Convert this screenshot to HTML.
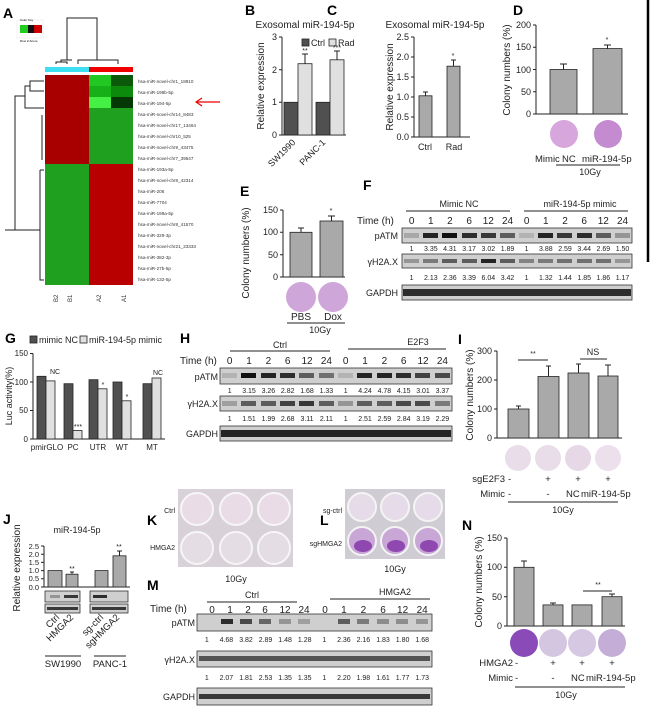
<!DOCTYPE html>
<html><head><meta charset="utf-8"><style>
html,body{margin:0;padding:0;background:#fff;}
svg{display:block;font-family:"Liberation Sans",Arial,sans-serif;}
.L{font-size:14px;font-weight:bold;}
.t{font-size:9px;fill:#222;}
.s{font-size:7px;fill:#222;}
.h{font-size:4.6px;fill:#333;}
.ax{stroke:#222;stroke-width:1;fill:none;}
.g{fill:#a9a9a9;stroke:#222;stroke-width:0.8;}
.dk{fill:#505050;stroke:#222;stroke-width:0.8;}
.lt{fill:#e0e0e0;stroke:#222;stroke-width:0.8;}
.bl{fill:#cfcfcf;stroke:#333;stroke-width:0.8;}
.b{fill:#111;}
</style></head><body>
<svg width="650" height="708" viewBox="0 0 650 708" xmlns="http://www.w3.org/2000/svg">
<line x1="648" y1="0" x2="648" y2="262" stroke="#000" stroke-width="2.5"/>

<!-- A -->
<text x="3" y="18" class="L">A</text>
<rect x="17" y="20" width="26" height="18" fill="#fff" stroke="#ccc" stroke-width="0.3"/>
<rect x="20" y="25" width="8" height="8" fill="#2c2"/><rect x="28" y="25" width="6" height="8" fill="#111"/><rect x="34" y="25" width="8" height="8" fill="#c00"/>
<text x="20" y="21" style="font-size:3px">Color Key</text>
<text x="20" y="42" style="font-size:3px">Row Z-Score</text>
<path class="ax" stroke-width="0.5" d="M56 64V62H67V64M78 64V60H118V64M61 62V60H72M97 60V18H67V60" />
<rect x="45" y="67" width="44" height="5" fill="#3de0f0"/><rect x="89" y="67" width="44" height="5" fill="#e00"/>
<g>
<rect x="45" y="75" width="44" height="89" fill="#a80000"/>
<rect x="89" y="75" width="22" height="11" fill="#22c822"/><rect x="111" y="75" width="22" height="11" fill="#0a5a0a"/>
<rect x="89" y="86" width="22" height="11" fill="#18b018"/><rect x="111" y="86" width="22" height="11" fill="#0b8a0b"/>
<rect x="89" y="97" width="22" height="11" fill="#44f044"/><rect x="111" y="97" width="22" height="11" fill="#063806"/>
<rect x="89" y="108" width="44" height="56" fill="#1fa01f"/>
<rect x="45" y="164" width="44" height="121" fill="#1fa01f"/>
<rect x="89" y="164" width="44" height="121" fill="#b80000"/>
</g>
<path class="ax" stroke-width="0.5" d="M44 81H30V91H44M30 86H25V108H44M25 96H15V230H40M40 170H44M40 170V280H44M42 115V160M15 230H5"/>
<text class="h" x="138" y="83">hsa-miR-novel-chr1_18910</text>
<text class="h" x="138" y="94">hsa-miR-196b-5p</text>
<text class="h" x="138" y="105">hsa-miR-194-5p</text>
<text class="h" x="138" y="116">hsa-miR-novel-chr14_8483</text>
<text class="h" x="138" y="127">hsa-miR-novel-chr17_13464</text>
<text class="h" x="138" y="138">hsa-miR-novel-chr10_525</text>
<text class="h" x="138" y="149">hsa-miR-novel-chr9_43475</text>
<text class="h" x="138" y="160">hsa-miR-novel-chr7_39547</text>
<text class="h" x="138" y="171">hsa-miR-193a-5p</text>
<text class="h" x="138" y="182">hsa-miR-novel-chr8_42314</text>
<text class="h" x="138" y="193">hsa-miR-206</text>
<text class="h" x="138" y="204">hsa-miR-7704</text>
<text class="h" x="138" y="215">hsa-miR-199a-5p</text>
<text class="h" x="138" y="226">hsa-miR-novel-chr8_41570</text>
<text class="h" x="138" y="237">hsa-miR-329-3p</text>
<text class="h" x="138" y="248">hsa-miR-novel-chr21_23333</text>
<text class="h" x="138" y="259">hsa-miR-382-3p</text>
<text class="h" x="138" y="270">hsa-miR-27b-5p</text>
<text class="h" x="138" y="281">hsa-miR-132-5p</text>
<line x1="197" y1="102" x2="220" y2="102" stroke="#e00" stroke-width="1.2"/><path d="M202 98L196 102L202 106" stroke="#e00" fill="none" stroke-width="1.2"/>
<g style="font-size:6px" fill="#333">
<text transform="translate(58,302) rotate(-90)">B2</text><text transform="translate(72,302) rotate(-90)">B1</text>
<text transform="translate(101,302) rotate(-90)">A2</text><text transform="translate(126,302) rotate(-90)">A1</text></g>

<!-- B -->
<text x="245" y="15" class="L">B</text>
<text x="305" y="28" class="t" style="font-size:10px" text-anchor="middle">Exosomal miR-194-5p</text>
<rect x="302" y="39" width="7" height="7" class="dk"/><text x="311" y="46" class="t">Ctrl</text>
<rect x="329" y="39" width="7" height="7" class="lt"/><text x="338" y="46" class="t">Rad</text>
<path class="ax" d="M282 37V135H346M279 37H282M279 69.7H282M279 102.3H282M279 135H282"/>
<g class="t" text-anchor="end"><text x="277" y="40">3</text><text x="277" y="73">2</text><text x="277" y="105">1</text><text x="277" y="138">0</text></g>
<text transform="translate(264,86) rotate(-90)" class="t" style="font-size:10px" text-anchor="middle">Relative expression</text>
<rect x="284" y="102.3" width="14" height="32.7" class="dk"/><rect x="298" y="63.7" width="14" height="71.3" class="lt"/>
<rect x="316" y="102.3" width="14" height="32.7" class="dk"/><rect x="330" y="59.8" width="14" height="75.2" class="lt"/>
<path class="ax" d="M305 63.7V54M302 54H308M337 59.8V51M334 51H340"/>
<text x="305" y="53" class="s" text-anchor="middle">**</text><text x="337" y="50" class="s" text-anchor="middle">***</text>
<text transform="translate(296,143) rotate(-45)" class="t" text-anchor="end">SW1990</text>
<text transform="translate(326,143) rotate(-45)" class="t" text-anchor="end">PANC-1</text>

<!-- C -->
<text x="327" y="15" class="L">C</text>
<text x="435" y="28" class="t" style="font-size:10px" text-anchor="middle">Exosomal miR-194-5p</text>
<path class="ax" d="M414 37V137H470M411 37H414M411 57H414M411 77H414M411 97H414M411 117H414M411 137H414"/>
<g class="t" text-anchor="end"><text x="409" y="40">2.5</text><text x="409" y="60">2.0</text><text x="409" y="80">1.5</text><text x="409" y="100">1.0</text><text x="409" y="120">0.5</text><text x="409" y="140">0.0</text></g>
<text transform="translate(393,87) rotate(-90)" class="t" style="font-size:10px" text-anchor="middle">Relative expression</text>
<rect x="419" y="95.8" width="13" height="41.2" class="g"/><rect x="447" y="66.2" width="13" height="70.8" class="g"/>
<path class="ax" d="M425.5 95.8V92M423 92H428M453.5 66.2V60M451 60H456"/>
<text x="453" y="58" class="s" text-anchor="middle">*</text>
<text x="425" y="150" class="t" text-anchor="middle">Ctrl</text><text x="454" y="150" class="t" text-anchor="middle">Rad</text>

<!-- D -->
<text x="513" y="15" class="L">D</text>
<path class="ax" d="M536 25V114H628M533 25H536M533 47.3H536M533 69.5H536M533 91.8H536M533 114H536"/>
<g class="t" text-anchor="end"><text x="531" y="28">200</text><text x="531" y="50">150</text><text x="531" y="73">100</text><text x="531" y="95">50</text><text x="531" y="117">0</text></g>
<text transform="translate(510,70) rotate(-90)" class="t" style="font-size:10px" text-anchor="middle">Colony numbers (%)</text>
<rect x="550" y="69.5" width="27" height="44.5" class="g"/><rect x="593" y="48.6" width="29" height="65.4" class="g"/>
<path class="ax" d="M563.5 69.5V64M560 64H567M607.5 48.6V45M604 45H611"/>
<text x="607" y="42" class="s" text-anchor="middle">*</text>
<circle cx="564" cy="134" r="14" fill="#d7a6dc"/><circle cx="608" cy="134" r="14" fill="#c58bd0"/>
<text x="535" y="162" class="t" style="font-size:9.5px">Mimic</text><text x="562" y="162" class="t" style="font-size:9.5px">NC</text><text x="582" y="162" class="t" style="font-size:9.5px">miR-194-5p</text>
<line x1="556" y1="165" x2="620" y2="165" class="ax"/>
<text x="590" y="175" class="t" text-anchor="middle">10Gy</text>

<!-- E -->
<text x="240" y="196" class="L">E</text>
<path class="ax" d="M283 210V277H345M280 210H283M280 232.3H283M280 254.7H283M280 277H283"/>
<g class="t" text-anchor="end"><text x="278" y="213">150</text><text x="278" y="235">100</text><text x="278" y="258">50</text><text x="278" y="280">0</text></g>
<text transform="translate(249,253) rotate(-90)" class="t" style="font-size:10px" text-anchor="middle">Colony numbers (%)</text>
<rect x="290" y="232.3" width="22" height="44.7" class="g"/><rect x="320" y="221" width="23" height="56" class="g"/>
<path class="ax" d="M301 232.3V228M298 228H304M331.5 221V216M328 216H335"/>
<text x="331" y="213" class="s" text-anchor="middle">*</text>
<circle cx="301" cy="297" r="15" fill="#cfa6da"/><circle cx="333" cy="297" r="15" fill="#cfa6da"/>
<text x="301" y="320" class="t" style="font-size:10px" text-anchor="middle">PBS</text><text x="333" y="320" class="t" style="font-size:10px" text-anchor="middle">Dox</text>
<line x1="287" y1="323" x2="345" y2="323" class="ax"/><text x="320" y="333" class="t" text-anchor="middle">10Gy</text>

<!-- F -->
<text x="363" y="190" class="L">F</text>
<text x="459" y="207" class="t" text-anchor="middle">Mimic NC</text><line x1="406" y1="211" x2="510" y2="211" class="ax"/>
<text x="580" y="207" class="t" text-anchor="middle">miR-194-5p mimic</text><line x1="524" y1="211" x2="628" y2="211" class="ax"/>
<text x="357" y="224" class="t" style="font-size:10px">Time (h)</text>
<g class="t" style="font-size:10px" text-anchor="middle">
<text x="411.6" y="224">0</text><text x="430.8" y="224">1</text><text x="449.9" y="224">2</text><text x="469.1" y="224">6</text><text x="488.3" y="224">12</text><text x="507.5" y="224">24</text>
<text x="526.6" y="224">0</text><text x="545.8" y="224">1</text><text x="565" y="224">2</text><text x="584.2" y="224">6</text><text x="603.3" y="224">12</text><text x="622.5" y="224">24</text></g>
<g class="t" text-anchor="end"><text x="398" y="239">pATM</text><text x="398" y="265">γH2A.X</text><text x="398" y="296">GAPDH</text></g>
<rect x="402" y="228" width="230" height="15" class="bl"/>
<rect x="402" y="254" width="230" height="14" class="bl"/>
<rect x="402" y="285" width="230" height="15" class="bl"/>
<g class="b">
<rect x="404" y="233" width="15" height="5" opacity=".2"/><rect x="423" y="233" width="15" height="5" opacity=".9"/><rect x="442" y="233" width="15" height="5"/><rect x="462" y="233" width="15" height="5" opacity=".85"/><rect x="481" y="233" width="15" height="5" opacity=".8"/><rect x="500" y="233" width="15" height="5" opacity=".6"/>
<rect x="519" y="233" width="15" height="5" opacity=".15"/><rect x="538" y="233" width="15" height="5" opacity=".9"/><rect x="557" y="233" width="15" height="5" opacity=".8"/><rect x="577" y="233" width="15" height="5" opacity=".85"/><rect x="596" y="233" width="15" height="5" opacity=".6"/><rect x="615" y="233" width="15" height="5" opacity=".3"/>
<rect x="404" y="259" width="15" height="4" opacity=".3"/><rect x="423" y="259" width="15" height="4" opacity=".45"/><rect x="442" y="259" width="15" height="4" opacity=".6"/><rect x="462" y="259" width="15" height="4" opacity=".6"/><rect x="481" y="259" width="15" height="4" opacity=".9"/><rect x="500" y="259" width="15" height="4" opacity=".6"/>
<rect x="519" y="259" width="15" height="4" opacity=".4"/><rect x="538" y="259" width="15" height="4" opacity=".45"/><rect x="557" y="259" width="15" height="4" opacity=".5"/><rect x="577" y="259" width="15" height="4" opacity=".5"/><rect x="596" y="259" width="15" height="4" opacity=".5"/><rect x="615" y="259" width="15" height="4" opacity=".3"/>
<rect x="403" y="289" width="228" height="7" opacity=".85"/></g>
<g class="s" text-anchor="middle">
<text x="411.6" y="251">1</text><text x="430.8" y="251">3.35</text><text x="449.9" y="251">4.31</text><text x="469.1" y="251">3.17</text><text x="488.3" y="251">3.02</text><text x="507.5" y="251">1.89</text><text x="526.6" y="251">1</text><text x="545.8" y="251">3.88</text><text x="565" y="251">2.59</text><text x="584.2" y="251">3.44</text><text x="603.3" y="251">2.69</text><text x="622.5" y="251">1.50</text>
<text x="411.6" y="280">1</text><text x="430.8" y="280">2.13</text><text x="449.9" y="280">2.36</text><text x="469.1" y="280">3.39</text><text x="488.3" y="280">6.04</text><text x="507.5" y="280">3.42</text><text x="526.6" y="280">1</text><text x="545.8" y="280">1.32</text><text x="565" y="280">1.44</text><text x="584.2" y="280">1.85</text><text x="603.3" y="280">1.86</text><text x="622.5" y="280">1.17</text></g>

<!-- G -->
<text x="5" y="343" class="L">G</text>
<rect x="30" y="336" width="7" height="7" class="dk"/><text x="39" y="343" class="t">mimic NC</text>
<rect x="80" y="336" width="7" height="7" class="lt"/><text x="89" y="343" class="t">miR-194-5p mimic</text>
<path class="ax" d="M33 353.5V439H165M30 353.5H33M30 382H33M30 410.5H33M30 439H33"/>
<g class="t" text-anchor="end" style="font-size:8px"><text x="28" y="356">150</text><text x="28" y="385">100</text><text x="28" y="413">50</text><text x="28" y="442">0</text></g>
<text transform="translate(12,396) rotate(-90)" class="t" text-anchor="middle">Luc activity(%)</text>
<rect x="37" y="376.3" width="9" height="62.7" class="dk"/><rect x="46" y="380.9" width="9" height="58.1" class="lt"/>
<rect x="64" y="383.7" width="9" height="55.3" class="dk"/><rect x="73" y="430.5" width="9" height="8.5" class="lt"/>
<rect x="89" y="379.7" width="9" height="59.3" class="dk"/><rect x="98" y="388.8" width="9" height="50.2" class="lt"/>
<rect x="113" y="382" width="9" height="57" class="dk"/><rect x="122" y="400.8" width="9" height="38.2" class="lt"/>
<rect x="143" y="383.7" width="9" height="55.3" class="dk"/><rect x="152" y="378" width="9" height="61" class="lt"/>
<g class="s" text-anchor="middle"><text x="55" y="374">NC</text><text x="78" y="429">***</text><text x="103" y="387">*</text><text x="127" y="399">*</text><text x="158" y="375">NC</text></g>
<g class="t" text-anchor="middle" style="font-size:8px"><text x="47" y="450">pmirGLO</text><text x="73" y="450">PC</text><text x="98" y="450">UTR</text><text x="122" y="450">WT</text><text x="152" y="450">MT</text></g>

<!-- H -->
<text x="180" y="343" class="L">H</text>
<text x="280" y="348" class="t" text-anchor="middle">Ctrl</text><line x1="230" y1="351" x2="330" y2="351" class="ax"/>
<text x="418" y="345" class="t" text-anchor="middle">E2F3</text><line x1="348" y1="349" x2="446" y2="349" class="ax"/>
<text x="180" y="364" class="t" style="font-size:10px">Time (h)</text>
<g class="t" style="font-size:10px" text-anchor="middle">
<text x="229.7" y="364">0</text><text x="249" y="364">1</text><text x="268.4" y="364">2</text><text x="287.7" y="364">6</text><text x="307" y="364">12</text><text x="326.4" y="364">24</text>
<text x="345.7" y="364">0</text><text x="365" y="364">1</text><text x="384.4" y="364">2</text><text x="403.7" y="364">6</text><text x="423" y="364">12</text><text x="442.4" y="364">24</text></g>
<g class="t" text-anchor="end"><text x="218" y="380">pATM</text><text x="218" y="407">γH2A.X</text><text x="218" y="437">GAPDH</text></g>
<rect x="220" y="368" width="232" height="16" class="bl"/>
<rect x="220" y="396" width="232" height="15" class="bl"/>
<rect x="220" y="426" width="232" height="15" class="bl"/>
<g class="b">
<rect x="222" y="373" width="15" height="5" opacity=".15"/><rect x="241" y="373" width="15" height="5"/><rect x="261" y="373" width="15" height="5" opacity=".9"/><rect x="280" y="373" width="15" height="5" opacity=".85"/><rect x="299" y="373" width="15" height="5" opacity=".6"/><rect x="319" y="373" width="15" height="5" opacity=".5"/>
<rect x="338" y="373" width="15" height="5" opacity=".15"/><rect x="357" y="373" width="15" height="5" opacity=".9"/><rect x="377" y="373" width="15" height="5" opacity=".9"/><rect x="396" y="373" width="15" height="5" opacity=".85"/><rect x="415" y="373" width="15" height="5" opacity=".75"/><rect x="435" y="373" width="15" height="5" opacity=".7"/>
<rect x="222" y="401" width="15" height="5" opacity=".25"/><rect x="241" y="401" width="15" height="5" opacity=".6"/><rect x="261" y="401" width="15" height="5" opacity=".6"/><rect x="280" y="401" width="15" height="5" opacity=".75"/><rect x="299" y="401" width="15" height="5" opacity=".8"/><rect x="319" y="401" width="15" height="5" opacity=".6"/>
<rect x="338" y="401" width="15" height="5" opacity=".3"/><rect x="357" y="401" width="15" height="5" opacity=".6"/><rect x="377" y="401" width="15" height="5" opacity=".6"/><rect x="396" y="401" width="15" height="5" opacity=".7"/><rect x="415" y="401" width="15" height="5" opacity=".7"/><rect x="435" y="401" width="15" height="5" opacity=".45"/>
<rect x="221" y="430" width="230" height="7" opacity=".9"/></g>
<g class="s" text-anchor="middle">
<text x="229.7" y="393">1</text><text x="249" y="393">3.15</text><text x="268.4" y="393">3.26</text><text x="287.7" y="393">2.82</text><text x="307" y="393">1.68</text><text x="326.4" y="393">1.33</text><text x="345.7" y="393">1</text><text x="365" y="393">4.24</text><text x="384.4" y="393">4.78</text><text x="403.7" y="393">4.15</text><text x="423" y="393">3.01</text><text x="442.4" y="393">3.37</text>
<text x="229.7" y="421">1</text><text x="249" y="421">1.51</text><text x="268.4" y="421">1.99</text><text x="287.7" y="421">2.68</text><text x="307" y="421">3.11</text><text x="326.4" y="421">2.11</text><text x="345.7" y="421">1</text><text x="365" y="421">2.51</text><text x="384.4" y="421">2.59</text><text x="403.7" y="421">2.84</text><text x="423" y="421">3.19</text><text x="442.4" y="421">2.29</text></g>

<!-- I -->
<text x="458" y="344" class="L">I</text>
<path class="ax" d="M497 351V438H622M494 351H497M494 380H497M494 409H497M494 438H497"/>
<g class="t" text-anchor="end"><text x="492" y="354">300</text><text x="492" y="383">200</text><text x="492" y="412">100</text><text x="492" y="441">0</text></g>
<text transform="translate(473,395) rotate(-90)" class="t" style="font-size:10px" text-anchor="middle">Colony numbers (%)</text>
<rect x="508" y="409" width="21" height="29" class="g"/><rect x="538" y="376.5" width="21" height="61.5" class="g"/><rect x="568" y="373" width="21" height="65" class="g"/><rect x="598" y="376" width="20" height="62" class="g"/>
<path class="ax" d="M518.5 409V406M516 406H521M548.5 376.5V366M546 366H551M578.5 373V364M576 364H581M608 376V365M605 365H611"/>
<line x1="518" y1="360" x2="548" y2="360" class="ax"/><text x="533" y="356" class="s" text-anchor="middle">**</text>
<line x1="580" y1="359" x2="607" y2="359" class="ax"/><text x="593" y="355" class="t" text-anchor="middle">NS</text>
<circle cx="518" cy="458" r="13" fill="#e8dde8"/><circle cx="548" cy="458" r="13" fill="#e8dde8"/><circle cx="578" cy="458" r="13" fill="#e6d8e6"/><circle cx="608" cy="458" r="13" fill="#ebe0eb"/>
<g class="t" style="font-size:9.5px"><text x="505" y="482" text-anchor="end">sgE2F3</text><text x="508" y="482">-</text><text x="548" y="482" text-anchor="middle">+</text><text x="578" y="482" text-anchor="middle">+</text><text x="608" y="482" text-anchor="middle">+</text>
<text x="505" y="497" text-anchor="end">Mimic</text><text x="508" y="497">-</text><text x="548" y="497" text-anchor="middle">-</text><text x="566" y="497">NC</text><text x="581" y="497">miR-194-5p</text></g>
<line x1="508" y1="502" x2="618" y2="502" class="ax"/><text x="563" y="513" class="t" text-anchor="middle">10Gy</text>

<!-- J -->
<text x="3" y="524" class="L">J</text>
<text x="77" y="533" class="t" text-anchor="middle">miR-194-5p</text>
<path class="ax" d="M44 546V587H130M41 546H44M41 554.2H44M41 562.4H44M41 570.6H44M41 578.8H44M41 587H44"/>
<g class="t" text-anchor="end" style="font-size:7.5px"><text x="39" y="549">2.5</text><text x="39" y="557">2.0</text><text x="39" y="565">1.5</text><text x="39" y="573">1.0</text><text x="39" y="581">0.5</text><text x="39" y="590">0.0</text></g>
<text transform="translate(20,568) rotate(-90)" class="t" style="font-size:10px" text-anchor="middle">Relative expression</text>
<rect x="48" y="570.6" width="14" height="16.4" class="g"/><rect x="66" y="574.2" width="12" height="12.8" class="g"/>
<rect x="95" y="570.6" width="13" height="16.4" class="g"/><rect x="113" y="555.8" width="13" height="31.2" class="g"/>
<path class="ax" d="M72 574.2V572M70 572H74M119.5 555.8V551M117 551H122"/>
<text x="72" y="571" class="s" text-anchor="middle">**</text><text x="119" y="549" class="s" text-anchor="middle">**</text>
<rect x="45" y="591" width="35" height="11" class="bl"/><rect x="90" y="591" width="38" height="11" class="bl"/>
<rect x="45" y="604" width="35" height="9" class="bl"/><rect x="90" y="604" width="38" height="9" class="bl"/>
<g class="b"><rect x="50" y="595" width="10" height="3" opacity=".3"/><rect x="64" y="595" width="14" height="3" opacity=".8"/><rect x="93" y="595" width="14" height="3" opacity=".85"/>
<rect x="47" y="607" width="31" height="3" opacity=".8"/><rect x="92" y="607" width="34" height="3" opacity=".8"/></g>
<g class="t" style="font-size:9.5px" text-anchor="end">
<text transform="translate(60,618) rotate(-45)">Ctrl</text><text transform="translate(74,618) rotate(-45)">HMGA2</text>
<text transform="translate(104,618) rotate(-45)">sg-ctrl</text><text transform="translate(120,618) rotate(-45)">sgHMGA2</text></g>
<line x1="45" y1="656" x2="81" y2="656" class="ax"/><line x1="94" y1="656" x2="126" y2="656" class="ax"/>
<text x="63" y="667" class="t" style="font-size:9.5px" text-anchor="middle">SW1990</text><text x="110" y="667" class="t" style="font-size:9.5px" text-anchor="middle">PANC-1</text>

<!-- K -->
<text x="147" y="525" class="L">K</text>
<rect x="178" y="489" width="115" height="78" fill="#d8d2d8"/>
<g fill="#eadce6" stroke="#f6f6f6" stroke-width="2"><circle cx="197" cy="509" r="16"/><circle cx="236" cy="509" r="16"/><circle cx="274" cy="509" r="16"/></g>
<g fill="#e4dde3" stroke="#f6f6f6" stroke-width="2"><circle cx="197" cy="548" r="16"/><circle cx="236" cy="548" r="16"/><circle cx="274" cy="548" r="16"/></g>
<text x="175" y="513" class="s" text-anchor="end">Ctrl</text><text x="175" y="550" class="s" text-anchor="end">HMGA2</text>
<text x="236" y="582" class="t" text-anchor="middle">10Gy</text>

<!-- L -->
<text x="320" y="525" class="L">L</text>
<rect x="345" y="489" width="100" height="70" fill="#d0ccd4"/>
<g fill="#e6dbe8" stroke="#f4f4f4" stroke-width="2"><circle cx="362" cy="507" r="14"/><circle cx="395" cy="507" r="14"/><circle cx="428" cy="507" r="14"/></g>
<g fill="#c8a6d6" stroke="#f4f4f4" stroke-width="2"><circle cx="362" cy="541" r="14"/><circle cx="395" cy="541" r="14"/><circle cx="428" cy="541" r="14"/></g>
<g fill="#8e48b0"><ellipse cx="363" cy="546" rx="9" ry="6"/><ellipse cx="396" cy="546" rx="9" ry="6"/><ellipse cx="429" cy="546" rx="9" ry="6"/></g>
<text x="342" y="513" class="s" text-anchor="end">sg-ctrl</text><text x="342" y="546" class="s" text-anchor="end">sgHMGA2</text>
<text x="395" y="572" class="t" text-anchor="middle">10Gy</text>

<!-- M -->
<text x="147" y="590" class="L">M</text>
<text x="252" y="598" class="t" text-anchor="middle">Ctrl</text><line x1="207" y1="602" x2="297" y2="602" class="ax"/>
<text x="395" y="595" class="t" text-anchor="middle">HMGA2</text><line x1="330" y1="599" x2="430" y2="599" class="ax"/>
<text x="150" y="612" class="t" style="font-size:10px">Time (h)</text>
<g class="t" style="font-size:10px" text-anchor="middle">
<text x="212" y="613">0</text><text x="230" y="613">1</text><text x="248" y="613">2</text><text x="265" y="613">6</text><text x="285" y="613">12</text><text x="304" y="613">24</text>
<text x="325" y="613">0</text><text x="343.9" y="613">1</text><text x="363.4" y="613">2</text><text x="383" y="613">6</text><text x="402.6" y="613">12</text><text x="422.2" y="613">24</text></g>
<g class="t" text-anchor="end"><text x="195" y="626">pATM</text><text x="195" y="663">γH2A.X</text><text x="195" y="700">GAPDH</text></g>
<rect x="197" y="614" width="235" height="17" class="bl"/>
<rect x="197" y="651" width="235" height="16" class="bl"/>
<rect x="197" y="688" width="235" height="17" class="bl"/>
<g class="b">
<rect x="221" y="619" width="12" height="5" opacity=".85"/><rect x="240" y="619" width="12" height="5" opacity=".7"/><rect x="259" y="619" width="12" height="5" opacity=".55"/><rect x="279" y="619" width="12" height="5" opacity=".3"/><rect x="298" y="619" width="12" height="5" opacity=".25"/>
<rect x="338" y="619" width="12" height="5" opacity=".6"/><rect x="357" y="619" width="12" height="5" opacity=".45"/><rect x="377" y="619" width="12" height="5" opacity=".35"/><rect x="396" y="619" width="12" height="5" opacity=".35"/><rect x="416" y="619" width="12" height="5" opacity=".3"/>
<rect x="199" y="656" width="231" height="5" opacity=".65"/>
<rect x="199" y="694" width="231" height="5" opacity=".8"/></g>
<g class="s" text-anchor="middle">
<text x="206.8" y="642">1</text><text x="226.4" y="642">4.68</text><text x="246" y="642">3.82</text><text x="265.5" y="642">2.89</text><text x="285.1" y="642">1.48</text><text x="304.7" y="642">1.28</text><text x="324.3" y="642">1</text><text x="343.9" y="642">2.36</text><text x="363.4" y="642">2.16</text><text x="383" y="642">1.83</text><text x="402.6" y="642">1.80</text><text x="422.2" y="642">1.68</text>
<text x="206.8" y="680">1</text><text x="226.4" y="680">2.07</text><text x="246" y="680">1.81</text><text x="265.5" y="680">2.53</text><text x="285.1" y="680">1.35</text><text x="304.7" y="680">1.35</text><text x="324.3" y="680">1</text><text x="343.9" y="680">2.20</text><text x="363.4" y="680">1.98</text><text x="383" y="680">1.61</text><text x="402.6" y="680">1.77</text><text x="422.2" y="680">1.73</text></g>

<!-- N -->
<text x="462" y="530" class="L">N</text>
<path class="ax" d="M507 538V626H625M504 538H507M504 567.3H507M504 596.7H507M504 626H507"/>
<g class="t" text-anchor="end"><text x="502" y="541">150</text><text x="502" y="570">100</text><text x="502" y="600">50</text><text x="502" y="629">0</text></g>
<text transform="translate(482,582) rotate(-90)" class="t" style="font-size:10px" text-anchor="middle">Colony numbers (%)</text>
<rect x="514" y="567.3" width="20" height="58.7" class="g"/><rect x="543" y="604.9" width="20" height="21.1" class="g"/><rect x="572" y="604.9" width="20" height="21.1" class="g"/><rect x="602" y="596.7" width="20" height="29.3" class="g"/>
<path class="ax" d="M524 567.3V561M521 561H527M553 604.9V603M550 603H556M612 596.7V594M609 594H615"/>
<line x1="583" y1="591" x2="612" y2="591" class="ax"/><text x="598" y="587" class="s" text-anchor="middle">**</text>
<circle cx="524" cy="643" r="14" fill="#8a4ab8"/><circle cx="553" cy="643" r="14" fill="#d4c6e0"/><circle cx="582" cy="643" r="14" fill="#d6c8e2"/><circle cx="612" cy="643" r="14" fill="#c4aed8"/>
<g class="t" style="font-size:9.5px"><text x="513" y="666" text-anchor="end">HMGA2</text><text x="515" y="666">-</text><text x="553" y="666" text-anchor="middle">+</text><text x="582" y="666" text-anchor="middle">+</text><text x="612" y="666" text-anchor="middle">+</text>
<text x="513" y="681" text-anchor="end">Mimic</text><text x="515" y="681">-</text><text x="553" y="681" text-anchor="middle">-</text><text x="571" y="681">NC</text><text x="586" y="681">miR-194-5p</text></g>
<line x1="515" y1="687" x2="625" y2="687" class="ax"/><text x="566" y="698" class="t" text-anchor="middle">10Gy</text>
</svg>
</body></html>
